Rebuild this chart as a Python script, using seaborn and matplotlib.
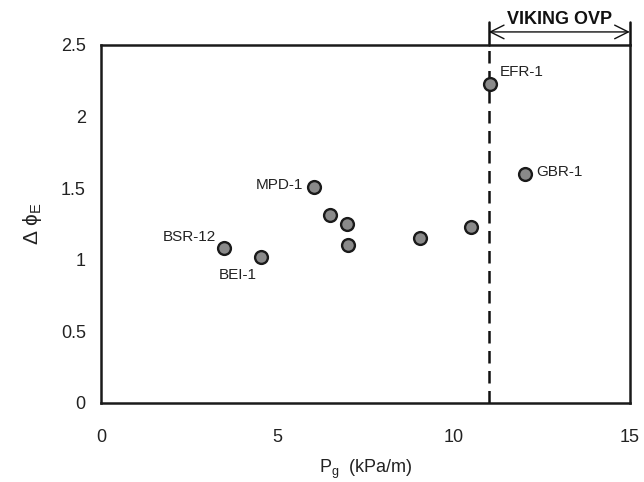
import matplotlib
matplotlib.use("Agg")
import matplotlib.pyplot as plt
import seaborn as sns
import pandas as pd

# datos
pg = [3.5, 4.55, 6.05, 6.5, 6.98, 7.0, 9.05, 10.5, 11.04, 12.03]
dphi = [1.08, 1.02, 1.51, 1.31, 1.25, 1.10, 1.15, 1.23, 2.23, 1.60]
names = ["BSR-12", "BEI-1", "MPD-1", "", "", "", "", "", "EFR-1", "GBR-1"]

xticks = [0, 5, 10, 15]
yticks = [0, 0.5, 1, 1.5, 2, 2.5]
viking_x = 11

sns.set_theme(style="white")
plt.rcParams['font.family'] = ['Liberation Sans', 'DejaVu Sans']

df = pd.DataFrame({"pg": pg, "dphi": dphi, "name": names})

fig = plt.figure(figsize=(6.44, 4.82), dpi=100)
ax = fig.add_axes([0.157, 0.164, 0.821, 0.743])

sns.scatterplot(data=df, x="pg", y="dphi", ax=ax, s=85, color="#8a8a8a",
                edgecolor="#1a1a1a", linewidth=1.7, zorder=3)

# etiquetas de los pozos: (dx, dy, alineacion)
offsets = {"BSR-12": (-6, 8, "right"), "BEI-1": (-17, -13, "center"),
           "MPD-1": (-8, 1, "right"), "EFR-1": (7, 8.5, "left"),
           "GBR-1": (8, 1.5, "left")}
for _, r in df.iterrows():
    if r["name"]:
        dx, dy, ha = offsets[r["name"]]
        ax.annotate(r["name"], (r["pg"], r["dphi"]), xytext=(dx, dy),
                    textcoords="offset points", fontsize=11, color="#222222",
                    va="center", ha=ha)

ax.set_xlim(0, 15)
ax.set_ylim(0, 2.5)
ax.set_xticks(xticks)
ax.set_yticks(yticks)
ax.set_xticklabels([str(t) for t in xticks])
ax.set_yticklabels([f"{t:g}" for t in yticks])
ax.tick_params(axis="both", length=0, labelsize=13, colors="#222222")
ax.tick_params(axis="x", pad=19)
ax.tick_params(axis="y", pad=11)
for sp in ax.spines.values():
    sp.set_color("#1a1a1a")
    sp.set_linewidth(1.8)

ax.set_xlabel(r"P$_\mathregular{g}$  (kPa/m)", fontsize=13, color="#222222", labelpad=8)
ax.set_ylabel("Δ ϕ$_\\mathregular{E}$", fontsize=15, color="#222222", labelpad=12)

# linea de OVP Viking
ax.axvline(viking_x, color="#111111", lw=1.8, ls=(0, (5, 3)), zorder=2)
ax.plot([viking_x, viking_x], [2.5, 2.66], color="#111111", lw=1.8, clip_on=False)
ax.plot([15, 15], [2.5, 2.66], color="#111111", lw=1.8, clip_on=False)
ax.annotate("", xy=(viking_x, 2.59), xytext=(15, 2.59), annotation_clip=False,
            arrowprops=dict(arrowstyle="<->,head_length=0.7,head_width=0.35",
                            color="#111111", lw=1.0,
                            shrinkA=0, shrinkB=0, mutation_scale=14))
ax.text((viking_x + 15) / 2, 2.675, "VIKING OVP", ha="center", va="center",
        fontsize=13, fontweight="bold", color="#111111", clip_on=False)

fig.savefig("out.png", dpi=100)
